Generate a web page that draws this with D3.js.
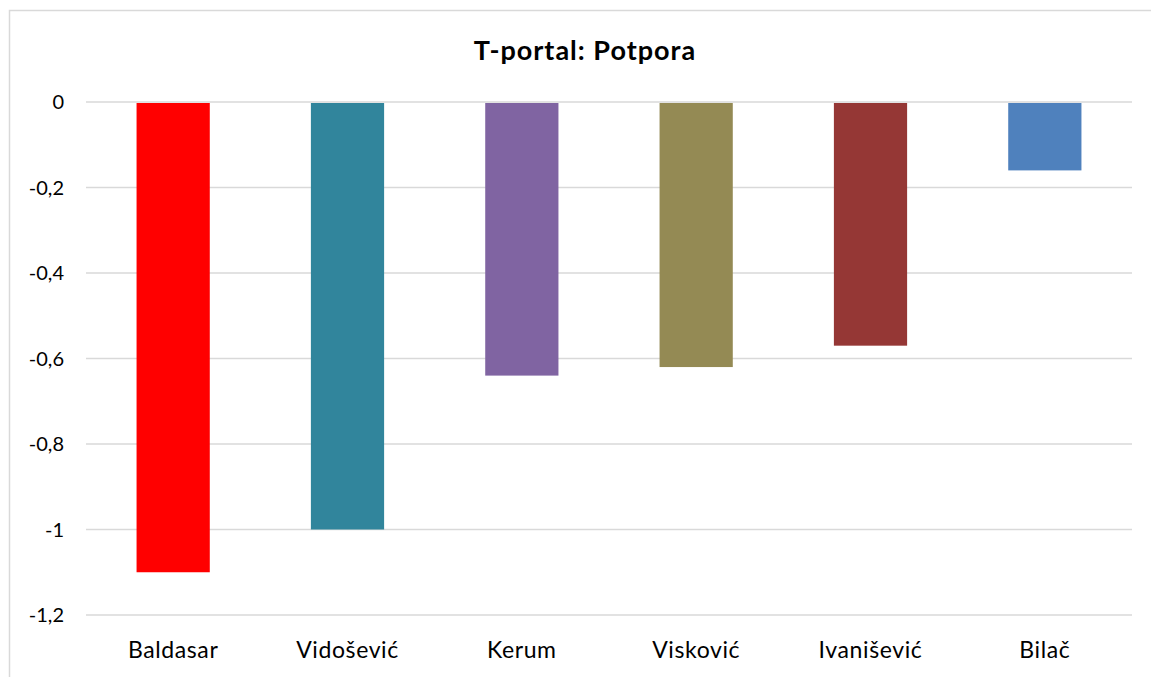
<!DOCTYPE html>
<html>
<head>
<meta charset="utf-8">
<script src="https://cdn.jsdelivr.net/npm/d3@7"></script>
<style>
  body { margin: 0; background: #fff; }
  text { font-family: Lato, "Open Sans", sans-serif; fill: #000; }
</style>
</head>
<body>
<div id="chart"></div>
<script>
const categories = ["Baldasar", "Vidošević", "Kerum", "Visković", "Ivanišević", "Bilač"];
const values = [-1.1, -1.0, -0.64, -0.62, -0.57, -0.16];
const colors = ["#ff0000", "#31859c", "#8064a2", "#948a54", "#953735", "#4f81bd"];
const yTicks = [0, -0.2, -0.4, -0.6, -0.8, -1, -1.2];
const title = "T-portal: Potpora";

const width = 1151;
const height = 677;
const margin = { top: 102, right: 19, bottom: 62, left: 86 };

let svg = d3
  .select("#chart")
  .append("svg")
  .attr("width", width)
  .attr("height", height);

// chart frame
svg.append("rect")
  .attr("x", 9.5).attr("y", 10.5)
  .attr("width", width + 20).attr("height", height + 20)
  .attr("fill", "none")
  .attr("stroke", "#d9d9d9")
  .attr("stroke-width", 1.5);

let x = d3.scaleBand()
  .domain(categories)
  .range([margin.left, width - margin.right])
  .paddingInner(0.58)
  .paddingOuter(0.29);

let y = d3.scaleLinear()
  .domain([0, -1.2])
  .range([margin.top, height - margin.bottom]);

// gridlines
svg.append("g")
  .selectAll("line")
  .data(yTicks)
  .enter()
  .append("line")
  .attr("x1", margin.left)
  .attr("x2", width - margin.right)
  .attr("y1", (d) => y(d))
  .attr("y2", (d) => y(d))
  .attr("stroke", "#d9d9d9")
  .attr("stroke-width", 1.5);

// y labels
const fmt = (d) => String(+d.toFixed(1)).replace(".", ",");
svg.append("g")
  .selectAll("text")
  .data(yTicks)
  .enter()
  .append("text")
  .attr("x", 64)
  .attr("y", (d) => y(d))
  .attr("dy", "0.35em")
  .attr("text-anchor", "end")
  .style("font-size", "20px")
  .text(fmt);

// bars
svg.append("g")
  .selectAll("rect")
  .data(values)
  .enter()
  .append("rect")
  .attr("x", (d, i) => x(categories[i]))
  .attr("width", x.bandwidth())
  .attr("y", y(0) + 1)
  .attr("height", (d) => y(d) - y(0) - 1)
  .attr("fill", (d, i) => colors[i]);

// category labels
svg.append("g")
  .selectAll("text")
  .data(categories)
  .enter()
  .append("text")
  .attr("x", (d) => x(d) + x.bandwidth() / 2)
  .attr("y", 658)
  .attr("text-anchor", "middle")
  .style("font-size", "23px")
  .style("letter-spacing", "0.6px")
  .text((d) => d);

svg.append("text")
  .attr("x", 585)
  .attr("y", 60)
  .attr("text-anchor", "middle")
  .style("font-size", "27px")
  .style("font-weight", "bold")
  .style("letter-spacing", "1px")
  .text(title);
</script>
</body>
</html>
